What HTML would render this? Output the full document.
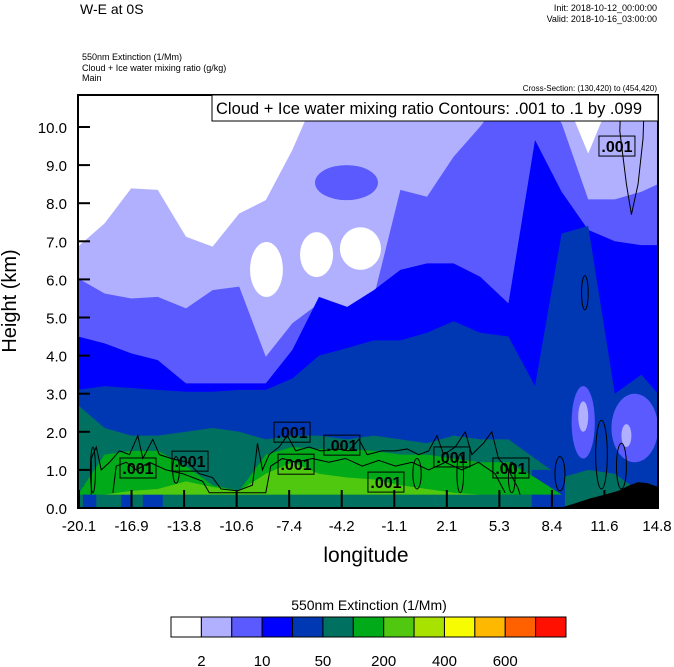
<!DOCTYPE html>
<html><head><meta charset="utf-8">
<style>
html,body{margin:0;padding:0;background:#fff;}
svg{display:block;font-family:"Liberation Sans",Arial,sans-serif;}
</style></head>
<body>
<svg id="chart" width="674" height="667" viewBox="0 0 674 667" xmlns="http://www.w3.org/2000/svg">
<defs><clipPath id="plotclip"><rect x="78" y="95" width="580" height="413"/></clipPath></defs>
<text x="80" y="14" font-size="14">W-E at 0S</text>
<text x="657" y="11" font-size="9" text-anchor="end">Init: 2018-10-12_00:00:00</text>
<text x="657" y="22" font-size="9" text-anchor="end">Valid: 2018-10-16_03:00:00</text>
<text x="82" y="60" font-size="9">550nm Extinction   (1/Mm)</text>
<text x="82" y="71" font-size="9">Cloud + Ice water mixing ratio   (g/kg)</text>
<text x="82" y="81" font-size="9">Main</text>
<text x="657" y="91" font-size="8" text-anchor="end">Cross-Section: (130,420) to (454,420)</text>
<g id="plot" clip-path="url(#plotclip)"></g>
<rect x="78" y="95" width="580" height="413" fill="none" stroke="#000" stroke-width="2"/>
<g>
<rect x="212" y="95" width="446" height="26" fill="#fff" stroke="#000" stroke-width="1"/>
<text x="216" y="114" font-size="16.5">Cloud + Ice water mixing ratio Contours: .001 to .1 by .099</text>
</g>
<g id="axes"></g>
<text transform="translate(16,301) rotate(-90)" font-size="20" text-anchor="middle">Height (km)</text>
<text x="366" y="562" font-size="21" text-anchor="middle">longitude</text>
<text x="369" y="610" font-size="14" text-anchor="middle">550nm Extinction  (1/Mm)</text>
<g id="colorbar"></g>
</svg>
<script>
const lons=[-20.1,-18.5,-16.9,-15.3,-13.6,-12.0,-10.4,-8.8,-7.2,-5.6,-3.9,-2.3,-0.7,0.9,2.5,4.1,5.8,7.4,9.0,10.6,12.2,13.8,14.8];
const lavenderTop=[6.86,7.47,8.39,8.35,7.12,6.86,7.73,8.08,9.40,11,11,11,11,11,11,11,11,11,11,9.3,11,11,11];
const mediumTop=[6.03,5.63,5.50,5.54,5.24,5.72,5.81,3.97,4.85,5.37,5.02,5.54,8.35,8.17,9.22,10.01,11,11,10.10,8.1,8.1,8.3,8.5];
const blueTop=[4.50,4.32,4.06,3.88,3.27,3.27,3.27,3.27,4.15,5.54,5.28,5.72,6.25,6.42,6.42,6.07,5.37,9.66,8.3,7.3,7.0,6.9,6.9];
const darkTop=[3.1,3.2,3.15,3.1,3.05,3.05,3.1,3.1,3.4,4.0,4.2,4.4,4.4,4.6,4.9,4.6,4.5,3.2,7.2,7.4,3.0,3.5,3.0];
const tealTop=[2.7,2.1,1.9,1.9,2.0,2.1,2.0,1.8,1.9,1.9,1.8,1.9,1.8,1.7,1.9,1.8,1.8,1.3,0.8,1.0,0.9,0.4,0.3];
const greenTop=[0.35,1.4,1.5,1.5,1.1,0.6,0.45,1.4,1.6,1.55,1.55,1.5,1.4,1.4,1.3,1.2,1.2,0.8,0.35,0.35,0.35,0.35,0.35];
const lightTop=[0.35,0.35,0.45,0.5,0.7,0.55,0.45,0.9,1.2,0.9,0.8,0.75,0.6,0.5,0.4,0.35,0.35,0.35,0.35,0.35,0.35,0.35,0.35];
const greenBottom=0.35;
const whiteBlobs=[[-9.75,-7.77,5.54,6.98],[-6.74,-4.75,6.06,7.24],[-4.34,-1.87,6.25,7.37]];
const mediumIslands=[[-5.84,-2.05,8.08,9.0],[9.6,11.0,1.3,3.2],[12.0,14.8,1.2,3.0]];
const lavenderIslands=[[10.0,10.6,2.0,2.8],[12.6,13.2,1.6,2.2]];
const darkGround=[[-19.8,-19.0,0,0.6],[-17.5,-16.9,0,0.4],[-16.2,-15.0,0,0.5],[7.2,9.2,0,1.0]];
const contour1=[[-19.3,0.35],[-19.3,1.3],[-19.0,1.6],[-18.7,1.0],[-18.2,1.2],[-17.6,1.5],[-17.0,1.4],[-16.5,1.9],[-16.2,1.3],[-15.6,1.8],[-15.2,1.4],[-14.5,1.3],[-13.5,1.2],[-12.8,0.9],[-12.0,0.8],[-11.5,0.5],[-10.5,0.45],[-9.6,0.6],[-9.3,1.7],[-9.0,1.0],[-8.6,1.4],[-8.0,1.6],[-7.5,1.9],[-7.0,1.5],[-6.2,1.6],[-5.5,1.5],[-4.5,1.55],[-3.8,1.5],[-3.2,1.8],[-2.7,1.4],[-1.8,1.5],[-1.0,1.5],[-0.3,1.55],[0.4,1.4],[1.0,1.5],[1.5,1.9],[1.9,1.4],[2.6,1.6],[3.2,2.0],[3.6,1.4],[4.3,1.7],[4.8,2.0],[5.2,1.3],[5.8,1.0],[6.4,0.5],[6.5,0.35]];
const contour2=[[-18.0,0.4],[-17.8,1.1],[-17.2,1.2],[-16.6,1.0],[-15.8,1.2],[-14.8,1.0],[-13.8,0.9],[-12.6,0.7],[-12.2,0.4],[-8.8,0.4],[-8.5,1.1],[-7.8,1.3],[-7.0,1.2],[-6.0,1.3],[-5.0,1.2],[-4.0,1.3],[-3.0,1.1],[-2.0,1.25],[-1.0,1.1],[0.0,1.2],[1.0,1.0],[2.0,1.2],[3.0,1.0],[4.0,1.2],[5.0,0.9],[5.6,0.4]];
const contourTR=[[12.6,11],[12.5,9.9],[12.9,8.5],[13.2,7.7],[13.6,8.5],[13.9,9.7],[14.0,11]];
const contourLoops=[[10.4,5.65,0.2,0.45],[8.9,0.9,0.3,0.45],[11.4,1.4,0.35,0.9],[12.6,1.1,0.3,0.6],[-19.2,1.0,0.15,0.6],[-14.2,1.0,0.2,0.35],[0.3,0.9,0.25,0.4],[2.9,0.9,0.2,0.5],[6.0,0.8,0.2,0.4]];
const labelLon=[-16.49,-13.36,-7.22,-6.98,-4.22,-1.57,2.40,5.95,12.33];
const labelH=[1.05,1.23,1.99,1.15,1.65,0.68,1.34,1.05,9.5];
const terrainLon=[8.9,9.8,10.7,11.6,12.4,13.1,13.6,14.2,14.8];
const terrainH=[0.0,0.12,0.25,0.35,0.45,0.6,0.68,0.65,0.55];
const yTicks=[0,1,2,3,4,5,6,7,8,9,10];
const xTickLabels=["-20.1","-16.9","-13.8","-10.6","-7.4","-4.2","-1.1","2.1","5.3","8.4","11.6","14.8"];
const cbColors=["#ffffff","#b0b0ff","#5a5aff","#0000ff","#0038b4","#007060","#00aa18","#50c810","#a8e200","#f8fc00","#ffb800","#ff6000","#ff1000"];
const cbLabels=["2","10","50","200","400","600"];

const NS="http://www.w3.org/2000/svg";
const X0=78,X1=658,Y0=508,PXKM=38.1,LON0=-20.1,LON1=14.8;
function sx(l){return X0+(l-LON0)/(LON1-LON0)*(X1-X0);}
function sy(h){return Y0-h*PXKM;}
function mk(tag,attrs,parent){const e=document.createElementNS(NS,tag);for(const k in attrs)e.setAttribute(k,attrs[k]);parent.appendChild(e);return e;}
const plot=document.getElementById('plot');
function band(top,bottom,color,name){
  let pts=[];
  for(let i=0;i<lons.length;i++)pts.push(sx(lons[i])+","+sy(top[i]));
  for(let i=lons.length-1;i>=0;i--)pts.push(sx(lons[i])+","+sy(bottom));
  const p=mk('polygon',{points:pts.join(' '),fill:color},plot);
  
  
}
function blob(b,color,name){
  const cx=sx((b[0]+b[1])/2),cy=sy((b[2]+b[3])/2),rx=(sx(b[1])-sx(b[0]))/2,ry=(sy(b[2])-sy(b[3]))/2;
  const e=mk('ellipse',{cx:cx,cy:cy,rx:rx,ry:ry,fill:color},plot);
  
  
}
band(lavenderTop,-1,"#b0b0ff","extinction-2-10");
band(mediumTop,-1,"#5a5aff","extinction-10-20");
mediumIslands.slice(0,1).forEach(b=>blob(b,"#5a5aff","extinction-island"));
whiteBlobs.forEach(b=>blob(b,"#ffffff","clear-air-blob"));
band(blueTop,-1,"#0000ff","extinction-20-50");
band(darkTop,-1,"#0038b4","extinction-50-100");
mediumIslands.slice(1).forEach(b=>blob(b,"#5a5aff","extinction-patch"));
lavenderIslands.forEach(b=>blob(b,"#b0b0ff","extinction-patch-light"));
band(tealTop,-1,"#007060","extinction-100-200");
darkGround.forEach(b=>{const r=mk('rect',{x:sx(b[0]),y:sy(b[3]),width:sx(b[1])-sx(b[0]),height:sy(b[2])-sy(b[3]),fill:"#0038b4"},plot);});
band(greenTop,greenBottom,"#00aa18","extinction-200-300");
band(lightTop,greenBottom,"#50c810","extinction-300-400");
function line(arr,name){
  const p=mk('polyline',{points:arr.map(d=>sx(d[0])+","+sy(d[1])).join(' '),fill:"none",stroke:"#000","stroke-width":1},plot);
  
  
}
line(contour1,"contour-001-outer");
line(contour2,"contour-001-inner");
line(contourTR,"contour-001-upper");
contourLoops.forEach(c=>{const e=mk('ellipse',{cx:sx(c[0]),cy:sy(c[1]),rx:sx(c[0]+c[2])-sx(c[0]),ry:c[3]*PXKM,fill:"none",stroke:"#000","stroke-width":1},plot);});
{let pts=terrainLon.map((l,i)=>sx(l)+","+sy(terrainH[i]));pts.push(sx(14.8)+","+sy(-0.2));pts.push(sx(8.9)+","+sy(-0.2));
const t=mk('polygon',{points:pts.join(' '),fill:"#000"},plot);}
for(let i=0;i<labelLon.length;i++){
  const g=mk('g',{},plot);
  
  
  const x=sx(labelLon[i]),y=sy(labelH[i]);
  mk('rect',{x:x-18,y:y-10,width:36,height:20,fill:"none",stroke:"#000","stroke-width":1},g);
  const t=mk('text',{x:x,y:y+6,"font-size":16,"font-weight":"bold","text-anchor":"middle"},g);t.textContent=".001";
}
const axes=document.getElementById('axes');
yTicks.forEach(v=>{
  const l=mk('line',{x1:X0,x2:X0+12,y1:sy(v),y2:sy(v),stroke:"#000","stroke-width":2},axes);
  
  const t=mk('text',{x:67,y:sy(v)+6,"font-size":15,"text-anchor":"end"},axes);t.textContent=v.toFixed(1);
  
});
xTickLabels.forEach((s,i)=>{
  const x=X0+1+i*(X1-X0-2)/(xTickLabels.length-1);
  const l=mk('line',{x1:x,x2:x,y1:Y0,y2:Y0-18,stroke:"#000","stroke-width":2},axes);
  
  const t=mk('text',{x:x,y:531,"font-size":15,"text-anchor":"middle"},axes);t.textContent=s;
  
});
const cb=document.getElementById('colorbar');
const cw=(566-171)/cbColors.length;
cbColors.forEach((c,i)=>{const r=mk('rect',{x:171+i*cw,y:617,width:cw,height:20,fill:c,stroke:"#000","stroke-width":1},cb);});
cbLabels.forEach((s,i)=>{const t=mk('text',{x:171+(1+2*i)*cw,y:666,"font-size":15,"text-anchor":"middle"},cb);t.textContent=s;});
</script>
</body></html>
